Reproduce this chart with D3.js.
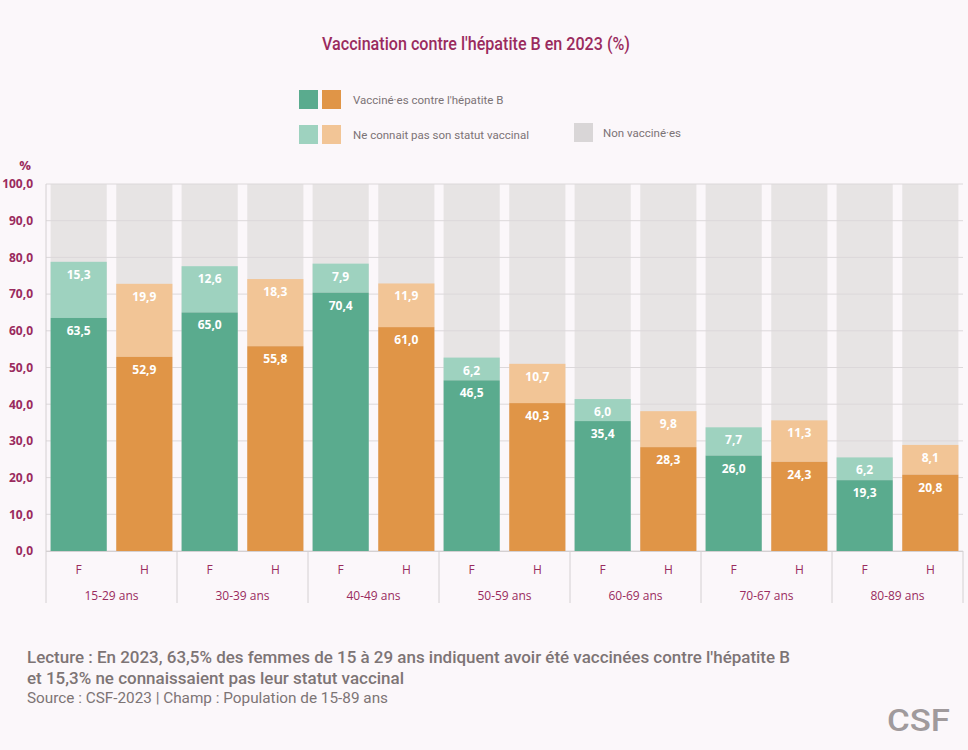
<!DOCTYPE html>
<html>
<head>
<meta charset="utf-8">
<script src="https://cdn.jsdelivr.net/npm/d3@7"></script>
<style>
  body { margin: 0; background: #fbf7fa; }
  svg { display: block; }
</style>
</head>
<body>
<div id="chart"></div>
<script>
// data
const groups = ["15-29 ans", "30-39 ans", "40-49 ans", "50-59 ans", "60-69 ans", "70-67 ans", "80-89 ans"];
const sexes = ["F", "H"];
const vaccF = [63.5, 65.0, 70.4, 46.5, 35.4, 26.0, 19.3];
const unknownF = [15.3, 12.6, 7.9, 6.2, 6.0, 7.7, 6.2];
const vaccH = [52.9, 55.8, 61.0, 40.3, 28.3, 24.3, 20.8];
const unknownH = [19.9, 18.3, 11.9, 10.7, 9.8, 11.3, 8.1];
const yTicks = [0, 10, 20, 30, 40, 50, 60, 70, 80, 90, 100];

const W = 968, H = 750;
const plum = "#9a2b5e";
const colors = {
    F: { vacc: "#5aab8e", unk: "#9ed2bf" },
    H: { vacc: "#e09547", unk: "#f2c596" },
    non: "#e7e4e4"
};

const svg = d3.select("#chart").append("svg").attr("width", W).attr("height", H);
svg.append("rect").attr("width", W).attr("height", H).attr("fill", "#fbf7fa");

const plotLeft = 46, plotRight = 963, plotTop = 184, plotBottom = 551, axisBottom = 603;

const x0 = d3.scaleBand().domain(groups).range([plotLeft, plotRight]);
const x1 = d3.scaleBand().domain(sexes).range([0, x0.bandwidth()]).paddingInner(0.145).paddingOuter(0.07);
const y = d3.scaleLinear().domain([0, 100]).range([plotBottom, plotTop]);

const rows = [];
groups.forEach((g, i) => {
    rows.push({ g: g, s: "F", vacc: vaccF[i], unk: unknownF[i] });
    rows.push({ g: g, s: "H", vacc: vaccH[i], unk: unknownH[i] });
});

// grey "non vaccinés" background bars
svg.append("g").selectAll("rect").data(rows).join("rect")
    .attr("x", d => x0(d.g) + x1(d.s))
    .attr("width", x1.bandwidth())
    .attr("y", y(100))
    .attr("height", y(0) - y(100))
    .attr("fill", colors.non);

// gridlines
svg.append("g").selectAll("line").data(yTicks).join("line")
    .attr("x1", plotLeft).attr("x2", plotRight)
    .attr("y1", d => y(d)).attr("y2", d => y(d))
    .attr("stroke", "#dcd8da").attr("stroke-width", 1);

// stacked bars
const bars = svg.append("g");
bars.selectAll("rect.unk").data(rows).join("rect").attr("class", "unk")
    .attr("x", d => x0(d.g) + x1(d.s))
    .attr("width", x1.bandwidth())
    .attr("y", d => y(d.vacc + d.unk))
    .attr("height", d => y(d.vacc) - y(d.vacc + d.unk))
    .attr("fill", d => colors[d.s].unk);
bars.selectAll("rect.vacc").data(rows).join("rect").attr("class", "vacc")
    .attr("x", d => x0(d.g) + x1(d.s))
    .attr("width", x1.bandwidth())
    .attr("y", d => y(d.vacc))
    .attr("height", d => y(0) - y(d.vacc))
    .attr("fill", d => colors[d.s].vacc);

const fmt = v => d3.format(".1f")(v).replace(".", ",");

// value labels
const labels = svg.append("g")
    .attr("font-family", "'Open Sans', sans-serif")
    .attr("font-size", 12).attr("font-weight", 700)
    .attr("fill", "#fff").attr("text-anchor", "middle");
labels.selectAll("text.unk").data(rows).join("text").attr("class", "unk")
    .attr("x", d => x0(d.g) + x1(d.s) + x1.bandwidth() / 2)
    .attr("y", d => y(d.vacc + d.unk) + 17)
    .text(d => fmt(d.unk));
labels.selectAll("text.vacc").data(rows).join("text").attr("class", "vacc")
    .attr("x", d => x0(d.g) + x1(d.s) + x1.bandwidth() / 2)
    .attr("y", d => y(d.vacc) + 17)
    .text(d => fmt(d.vacc));

// y axis
const yAxis = svg.append("g")
    .attr("transform", `translate(${plotLeft},0)`)
    .call(d3.axisLeft(y).tickValues(yTicks).tickSize(0).tickPadding(13).tickFormat(fmt));
yAxis.select(".domain").remove();
yAxis.selectAll("text")
    .attr("font-family", "'Open Sans', sans-serif")
    .attr("font-size", 12).attr("font-weight", 700).attr("fill", plum);
svg.append("line").attr("x1", plotLeft).attr("x2", plotLeft).attr("y1", plotTop).attr("y2", axisBottom)
    .attr("stroke", "#d4d0d2");
svg.append("text").attr("x", 25).attr("y", 170).attr("text-anchor", "middle")
    .attr("font-family", "'Open Sans', sans-serif").attr("font-size", 13).attr("font-weight", 700)
    .attr("fill", plum).text("%");

// x axis: group separators and labels
svg.append("line").attr("x1", plotLeft).attr("x2", plotRight).attr("y1", plotBottom + 0.5).attr("y2", plotBottom + 0.5)
    .attr("stroke", "#d4d0d2");
svg.append("g").selectAll("line").data(groups).join("line")
    .attr("x1", d => x0(d) + x0.bandwidth()).attr("x2", d => x0(d) + x0.bandwidth())
    .attr("y1", plotBottom).attr("y2", axisBottom)
    .attr("stroke", "#d4d0d2");

const xl = svg.append("g")
    .attr("font-family", "'Open Sans', sans-serif").attr("font-size", 12)
    .attr("fill", plum).attr("text-anchor", "middle");
xl.selectAll("text.sex").data(rows).join("text").attr("class", "sex")
    .attr("x", d => x0(d.g) + x1(d.s) + x1.bandwidth() / 2)
    .attr("y", 574)
    .text(d => d.s);
xl.selectAll("text.grp").data(groups).join("text").attr("class", "grp")
    .attr("x", d => x0(d) + x0.bandwidth() / 2)
    .attr("y", 600)
    .text(d => d);

// title
svg.append("text").attr("x", 476).attr("y", 50).attr("text-anchor", "middle")
    .attr("font-family", "Roboto, sans-serif").attr("font-size", 19).attr("font-weight", 500)
    .attr("fill", plum)
    .attr("textLength", 308).attr("lengthAdjust", "spacingAndGlyphs")
    .text("Vaccination contre l'hépatite B en 2023 (%)");

// legend
const legend = svg.append("g").attr("font-family", "Roboto, sans-serif").attr("font-size", 11.5).attr("fill", "#7b7376");
const sw = 19;
legend.append("rect").attr("x", 299).attr("y", 90).attr("width", sw).attr("height", sw).attr("fill", colors.F.vacc);
legend.append("rect").attr("x", 322).attr("y", 90).attr("width", sw).attr("height", sw).attr("fill", colors.H.vacc);
legend.append("text").attr("x", 353).attr("y", 104).text("Vacciné·es contre l'hépatite B");
legend.append("rect").attr("x", 299).attr("y", 125).attr("width", sw).attr("height", sw).attr("fill", colors.F.unk);
legend.append("rect").attr("x", 322).attr("y", 125).attr("width", sw).attr("height", sw).attr("fill", colors.H.unk);
legend.append("text").attr("x", 353).attr("y", 139).text("Ne connait pas son statut vaccinal");
legend.append("rect").attr("x", 574).attr("y", 123).attr("width", sw).attr("height", sw).attr("fill", "#d9d6d7");
legend.append("text").attr("x", 603).attr("y", 137).text("Non vacciné·es");

// footer notes
const foot = svg.append("g").attr("font-family", "Roboto, sans-serif").attr("fill", "#7d7475");
foot.append("text").attr("x", 27).attr("y", 663).attr("font-size", 16).attr("font-weight", 500)
    .attr("textLength", 763).attr("lengthAdjust", "spacingAndGlyphs")
    .text("Lecture : En 2023, 63,5% des femmes de 15 à 29 ans indiquent avoir été vaccinées contre l'hépatite B");
foot.append("text").attr("x", 27).attr("y", 684).attr("font-size", 16).attr("font-weight", 500)
    .attr("textLength", 377).attr("lengthAdjust", "spacingAndGlyphs")
    .text("et 15,3% ne connaissaient pas leur statut vaccinal");
foot.append("text").attr("x", 27).attr("y", 703).attr("font-size", 14)
    .attr("textLength", 361).attr("lengthAdjust", "spacingAndGlyphs")
    .text("Source : CSF-2023 | Champ : Population de 15-89 ans");

// logo
svg.append("text").attr("x", 950).attr("y", 731).attr("text-anchor", "end")
    .attr("font-family", "Roboto, sans-serif").attr("font-size", 32).attr("font-weight", 500)
    .attr("fill", "#a09a9c").attr("textLength", 63).attr("lengthAdjust", "spacingAndGlyphs")
    .text("CSF");
</script>
</body>
</html>
